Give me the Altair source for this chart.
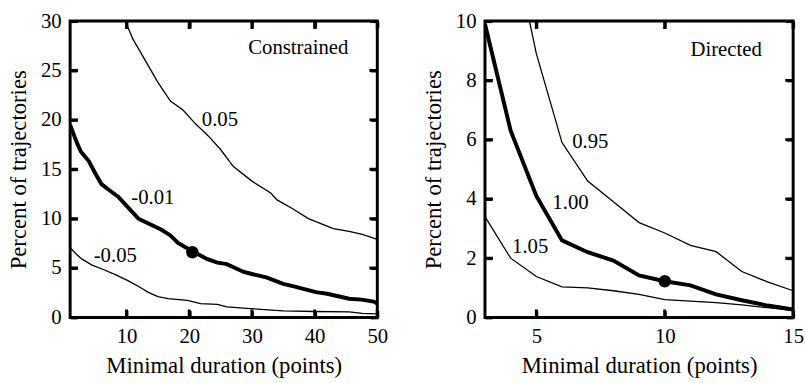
import altair as alt
import pandas as pd

FONT = "Liberation Serif"

# ---------------- Left panel: Constrained ----------------
c_x_005 = [9.8, 11, 13, 15, 17, 19, 21, 23, 25, 27, 30, 33, 34, 36.5, 39, 41, 43, 45.5, 47.6, 50]
c_y_005 = [30, 28.2, 26.0, 23.8, 21.9, 21.0, 19.6, 18.4, 17.0, 15.3, 13.8, 12.6, 11.9, 11.0, 10.0, 9.5, 9.0, 8.7, 8.4, 7.9]

c_x_m001 = [1, 2, 2.7, 4, 5, 6, 7, 8.7, 10, 11.9, 13.5, 15.5, 17, 18.2, 20.5, 22.9, 24.5, 26, 28.7, 30, 32.3, 35, 37, 40.2, 42, 45.5, 47.5, 49.4, 50]
c_y_m001 = [19.5, 17.8, 16.8, 15.8, 14.6, 13.5, 13.0, 12.2, 11.3, 10.0, 9.5, 8.9, 8.3, 7.55, 6.7, 5.9, 5.55, 5.4, 4.6, 4.4, 4.06, 3.4, 3.1, 2.56, 2.4, 1.89, 1.8, 1.6, 1.4]

c_x_m005 = [1, 2, 2.9, 4.5, 6.1, 8.3, 10.3, 12, 13.4, 15, 16.6, 19.7, 21.8, 24.5, 26, 29.7, 32, 35, 40, 45.5, 47.6, 50]
c_y_m005 = [7.05, 6.4, 5.9, 5.3, 4.9, 4.3, 3.7, 3.1, 2.56, 2.1, 1.9, 1.72, 1.4, 1.33, 1.07, 0.9, 0.8, 0.67, 0.6, 0.57, 0.4, 0.35]

c_dot_x = [20.5]
c_dot_y = [6.6]

c_label_text = ["Constrained", "0.05", "-0.01", "-0.05"]
c_label_x = [37.4, 24.9, 14.2, 8.2]
c_label_y = [27.3, 20.0, 12.1, 6.2]

c_xticks = [10, 20, 30, 40, 50]
c_yticks = [0, 5, 10, 15, 20, 25, 30]

# ---------------- Right panel: Directed ----------------
d_x_095 = [4, 5, 6, 7, 8, 9, 10, 11, 12, 13, 14, 15]
d_y_095 = [13.0, 8.9, 5.9, 4.6, 3.9, 3.2, 2.85, 2.43, 2.22, 1.55, 1.2, 0.9]

d_x_100 = [3, 4, 5, 6, 7, 8, 9, 10, 11, 12, 13, 14, 15]
d_y_100 = [9.9, 6.3, 4.1, 2.6, 2.2, 1.92, 1.42, 1.22, 1.08, 0.78, 0.58, 0.4, 0.27]

d_x_105 = [3, 4, 5, 6, 7, 8, 9, 10, 11, 12, 13, 14, 15]
d_y_105 = [3.4, 2.0, 1.38, 1.03, 1.0, 0.9, 0.78, 0.6, 0.55, 0.5, 0.42, 0.33, 0.24]

d_dot_x = [10]
d_dot_y = [1.22]

d_label_text = ["Directed", "0.95", "1.00", "1.05"]
d_label_x = [12.39, 7.1, 6.33, 4.76]
d_label_y = [9.03, 5.93, 3.87, 2.37]

d_xticks = [5, 10, 15]
d_yticks = [0, 2, 4, 6, 8, 10]

X_TITLE = "Minimal duration (points)"
Y_TITLE = "Percent of trajectories"


def lines_df(pairs):
    rows = []
    for name, xs, ys in pairs:
        for x, y in zip(xs, ys):
            rows.append({"series": name, "x": x, "y": y})
    return pd.DataFrame(rows)


TICK = dict(offset=-7, tickSize=7, tickWidth=3, tickColor="black", domain=False,
            grid=False, zindex=2, minExtent=0)


def panel(thin_pairs, thick_pair, dot_x, dot_y, lab_t, lab_x, lab_y,
          xdom, ydom, xticks, yticks, w, h):
    xs = alt.Scale(domain=xdom, nice=False, zero=False)
    ys = alt.Scale(domain=ydom, nice=False, zero=False)

    ax_bottom = alt.Axis(orient="bottom", values=xticks, title=X_TITLE,
                         labelPadding=8.5, titlePadding=8, labelFlush=False,
                         labelOverlap=False, **TICK)
    ax_left = alt.Axis(orient="left", values=yticks, title=Y_TITLE,
                       labelPadding=9, titlePadding=10, labelFlush=False,
                       labelOverlap=False, **TICK)
    ax_top = alt.Axis(orient="top", values=xticks, title=None, labels=False,
                      maxExtent=0, **TICK)
    ax_right = alt.Axis(orient="right", values=yticks, title=None, labels=False,
                        maxExtent=0, **TICK)

    thin_df = lines_df(thin_pairs)
    thick_df = lines_df([thick_pair])

    thin = alt.Chart(thin_df).mark_line(color="black", strokeWidth=1.3, clip=True).encode(
        x=alt.X("x:Q", scale=xs, axis=ax_bottom),
        y=alt.Y("y:Q", scale=ys, axis=ax_left),
        detail="series:N",
        order="x:Q",
    )
    thick = alt.Chart(thick_df).mark_line(color="black", strokeWidth=4, clip=True).encode(
        x=alt.X("x:Q", scale=xs, axis=ax_top),
        y=alt.Y("y:Q", scale=ys, axis=ax_right),
        order="x:Q",
    )
    dot = alt.Chart(pd.DataFrame({"x": dot_x, "y": dot_y})).mark_circle(
        color="black", opacity=1, size=160).encode(
        x=alt.X("x:Q", scale=xs, axis=None),
        y=alt.Y("y:Q", scale=ys, axis=None),
    )
    labels = alt.Chart(pd.DataFrame({"t": lab_t, "x": lab_x, "y": lab_y})).mark_text(
        font=FONT, fontSize=21, color="black", align="center", baseline="middle").encode(
        x=alt.X("x:Q", scale=xs, axis=None),
        y=alt.Y("y:Q", scale=ys, axis=None),
        text="t:N",
    )

    # inward tick marks on all four sides at the tick values on the frame edges
    vt = pd.DataFrame({"x": list(xticks) * 2,
                       "y": [ydom[0]] * len(xticks) + [ydom[1]] * len(xticks)})
    ht = pd.DataFrame({"x": [xdom[0]] * len(yticks) + [xdom[1]] * len(yticks),
                       "y": list(yticks) * 2})
    vticks = alt.Chart(vt).mark_tick(orient="vertical", color="black", opacity=1,
                                     size=16, thickness=3, clip=True).encode(
        x=alt.X("x:Q", scale=xs, axis=None),
        y=alt.Y("y:Q", scale=ys, axis=None),
    )
    hticks = alt.Chart(ht).mark_tick(orient="horizontal", color="black", opacity=1,
                                     size=16, thickness=3, clip=True).encode(
        x=alt.X("x:Q", scale=xs, axis=None),
        y=alt.Y("y:Q", scale=ys, axis=None),
    )
    return alt.layer(thin, thick, dot, labels, vticks, hticks).resolve_axis(
        x="independent", y="independent").properties(width=w, height=h)


left = panel(
    [("0.05", c_x_005, c_y_005), ("-0.05", c_x_m005, c_y_m005)],
    ("-0.01", c_x_m001, c_y_m001),
    c_dot_x, c_dot_y, c_label_text, c_label_x, c_label_y,
    [1, 50], [0, 30], c_xticks, c_yticks, 311, 300)

right = panel(
    [("0.95", d_x_095, d_y_095), ("1.05", d_x_105, d_y_105)],
    ("1.00", d_x_100, d_y_100),
    d_dot_x, d_dot_y, d_label_text, d_label_x, d_label_y,
    [3, 15], [0, 10], d_xticks, d_yticks, 312, 300)

chart = alt.hconcat(left, right, spacing=32).properties(
    padding={"left": 6, "top": 6, "right": 0, "bottom": 0},
    background="white",
).configure_view(
    stroke="black", strokeWidth=3
).configure_axis(
    labelFont=FONT, titleFont=FONT, labelFontSize=21, titleFontSize=23,
    labelColor="black", titleColor="black", titleFontWeight="normal",
)

chart.save("out.html", embed_options={"renderer": "svg", "actions": False})
